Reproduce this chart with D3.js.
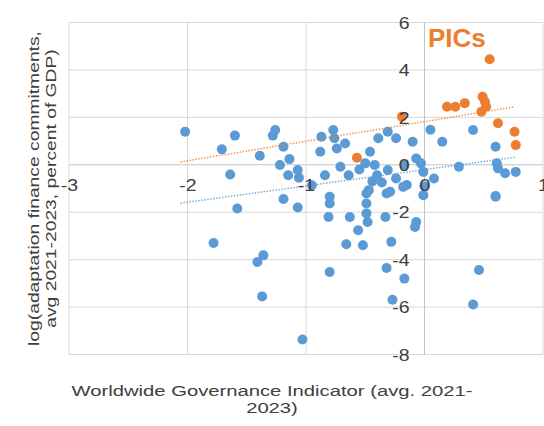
<!DOCTYPE html>
<html>
<head>
<meta charset="utf-8">
<script src="https://cdn.jsdelivr.net/npm/d3@7/dist/d3.min.js"></script>
<style>
  html, body { margin: 0; padding: 0; background: #fff; }
  svg { display: block; font-family: "Liberation Sans", Arial, sans-serif; }
</style>
</head>
<body>
<svg id="chart" width="544" height="426"></svg>
<script>
// Governance indicator (x) vs log adaptation finance commitments (y)
const otherX = [-2.02, -1.60, -1.26, -1.28, -1.71, -1.39, -1.19, -1.14, -1.22, -1.15,
  -1.64, -1.07, -1.19, -1.58, -1.07, -1.78, -1.36, -1.41, -1.37, -1.03,
  -0.27, -0.17, 0.41, -0.80, -0.80, -0.81, -0.63, -0.49, -0.49, -0.49,
  -0.48, -0.56, -0.66, -0.52, -0.33, -0.28, -0.07, -0.08, -0.32, -0.01,
  -0.80, -0.32, 0.60, 0.46, -0.77, -0.87, -0.76, -0.88, -0.74, -0.67,
  -1.06, -0.95, -0.84, -0.71, -0.64, -0.46, -0.50, -0.42, -0.39, -0.31,
  -0.24, -0.10, -0.40, -0.31, -0.24, -0.17, -0.07, -0.01, 0.05, 0.08,
  -0.47, -0.29, -0.18, 0.00, 0.41, 0.15, 0.60, 0.29, 0.61, 0.62,
  0.68, 0.77, 0.60, -0.03, -0.44, -0.55, -0.36, -0.15];
const otherY = [1.39, 1.23, 1.47, 1.23, 0.65, 0.38, 0.76, 0.24, -0.01, -0.44,
  -0.41, -0.22, -1.44, -1.84, -1.80, -3.30, -3.82, -4.10, -5.55, -7.37,
  -5.69, -4.80, -5.89, -1.35, -1.63, -2.20, -2.20, -1.21, -1.63, -2.05,
  -2.41, -2.76, -3.35, -3.39, -2.20, -3.25, -2.41, -2.62, -1.21, -1.28,
  -4.52, -4.35, -1.35, -4.44, 1.47, 1.18, 1.12, 0.55, 0.69, 0.90,
  -0.55, -0.86, -0.44, -0.08, -0.44, 0.55, 0.06, -0.01, 1.12, 1.39,
  1.12, 0.97, -0.44, -0.22, -0.58, -0.01, 0.27, -0.30, 1.48, -0.58,
  -1.07, -1.14, -0.93, -0.90, 1.47, 0.97, 0.76, -0.08, 0.06, -0.15,
  -0.36, -0.30, -1.32, 0.06, -0.70, -0.20, -0.75, -0.85];

const picX = [0.55, 0.19, 0.26, 0.34, 0.49, 0.51, 0.52, 0.48, 0.62, 0.76, 0.77, -0.19, -0.57];
const picY = [4.45, 2.45, 2.45, 2.60, 2.87, 2.66, 2.45, 2.24, 1.75, 1.39, 0.83, 2.03, 0.30];

// Linear trend lines: [slope, intercept] and x extent
const otherTrend = [0.686, -0.205];
const picTrend = [0.826, 1.82];
const trendRange = [-2.06, 0.76];

const xTicks = [-3, -2, -1, 0, 1];
const yTicks = [-8, -6, -4, -2, 0, 2, 4, 6];

const xTitle = ["Worldwide Governance Indicator (avg. 2021-", "2023)"];
const yTitle = ["log(adaptation finance commitments,", "avg 2021-2023, percent of GDP)"];
const groupLabel = "PICs";

const BLUE = "#5B9BD5", ORANGE = "#ED7D31", TEXT = "#404040";
const WIDE = 1.22; // horizontal glyph stretch used for tick labels

const svg = d3.select("#chart");
const x = d3.scaleLinear().domain([-3, 1]).range([69, 543]);
const y = d3.scaleLinear().domain([-8, 6]).range([354.5, 22.5]);

// Gridlines
const grid = svg.append("g");
grid.selectAll("line.h").data(yTicks).join("line")
  .attr("x1", x(-3)).attr("x2", x(1))
  .attr("y1", d => y(d)).attr("y2", d => y(d))
  .attr("stroke", d => d === 0 ? "#c4c4c4" : "#d9d9d9").attr("stroke-width", 1);
grid.selectAll("line.v").data(xTicks).join("line")
  .attr("y1", y(6)).attr("y2", y(-8))
  .attr("x1", d => x(d)).attr("x2", d => x(d))
  .attr("stroke", d => d === 0 ? "#c4c4c4" : "#d9d9d9").attr("stroke-width", 1);

// Points
const others = otherX.map((v, i) => [v, otherY[i]]);
const pics = picX.map((v, i) => [v, picY[i]]);
svg.append("g").selectAll("circle").data(others).join("circle")
  .attr("cx", d => x(d[0])).attr("cy", d => y(d[1])).attr("r", 5)
  .attr("fill", BLUE);
svg.append("g").selectAll("circle").data(pics).join("circle")
  .attr("cx", d => x(d[0])).attr("cy", d => y(d[1])).attr("r", 5)
  .attr("fill", ORANGE);

// Trend lines
const trendLine = d3.line().x(d => x(d[0])).y(d => y(d[1]));
[[otherTrend, BLUE], [picTrend, ORANGE]].forEach(([t, c]) => {
  const pts = trendRange.map(v => [v, t[0] * v + t[1]]);
  svg.append("path").attr("d", trendLine(pts))
    .attr("fill", "none").attr("stroke", c).attr("stroke-width", 1.5)
    .attr("stroke-dasharray", "1.5,1.5").attr("opacity", 0.8);
});

// Axes crossing at the origin
const fmt = d => (d < 0 ? "-" + Math.abs(d) : String(d));
const xAxis = svg.append("g").attr("transform", `translate(0,${y(0)})`)
  .call(d3.axisBottom(x).tickValues(xTicks).tickSize(0).tickFormat(fmt));
const yAxis = svg.append("g").attr("transform", `translate(${x(0)},0)`)
  .call(d3.axisLeft(y).tickValues(yTicks).tickSize(0).tickFormat(fmt));
[xAxis, yAxis].forEach(a => {
  a.select(".domain").remove();
  a.selectAll("text").attr("font-size", 16).attr("fill", TEXT)
    .attr("font-family", "Liberation Sans, Arial, sans-serif");
});
xAxis.selectAll(".tick text")
  .attr("x", 0).attr("y", 0).attr("dy", 0)
  .attr("transform", `translate(0,26) scale(${WIDE},1)`);
yAxis.selectAll(".tick text")
  .attr("x", 0).attr("y", 0).attr("dy", "0.36em")
  .attr("transform", `translate(-15,0) scale(${WIDE},1)`);

// Group label
svg.append("text").attr("x", 428).attr("y", 47)
  .attr("font-size", 26).attr("font-weight", "bold").attr("fill", ORANGE)
  .text(groupLabel);

// Axis titles
svg.append("g").selectAll("text").data(xTitle).join("text")
  .attr("transform", (d, i) => `translate(272,${396 + i * 17}) scale(1.35,1)`)
  .attr("text-anchor", "middle").attr("font-size", 15).attr("fill", TEXT)
  .text(d => d);
svg.append("g").selectAll("text").data(yTitle).join("text")
  .attr("transform", (d, i) => `translate(${34 + i * 17},188.5) rotate(-90) scale(1.285,1)`)
  .attr("text-anchor", "middle").attr("dy", "0.35em")
  .attr("font-size", 15).attr("fill", TEXT)
  .text(d => d);
</script>
</body>
</html>
